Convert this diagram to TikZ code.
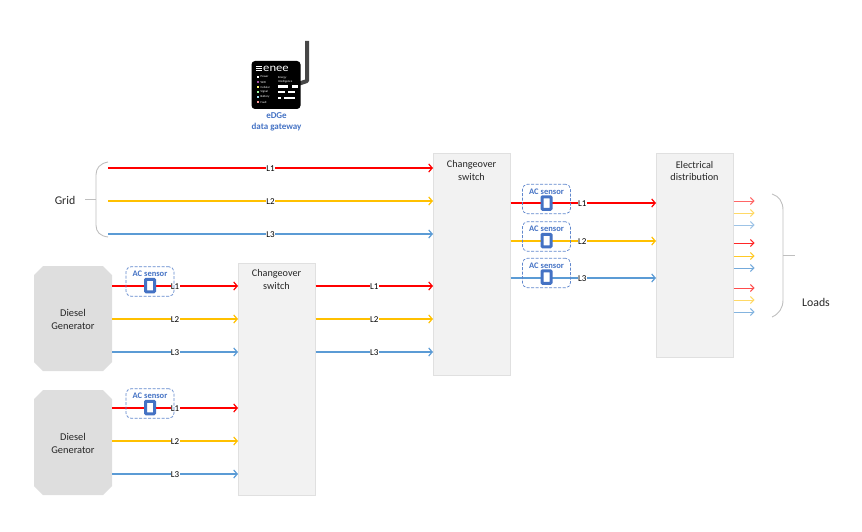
\documentclass[tikz,border=0pt]{standalone}
\usepackage{fontspec}
\setmainfont{Carlito}
\usetikzlibrary{arrows.meta}
\definecolor{redL}{HTML}{FF0000}
\definecolor{yelL}{HTML}{FFC000}
\definecolor{bluL}{HTML}{5B9BD5}
\definecolor{acblue}{HTML}{4472C4}
\tikzset{
 swbox/.style={draw=black!12,fill=black!5,line width=.6pt,align=center,anchor=north west,minimum width=77pt,minimum height=#1,inner sep=0pt},
 swtext/.style={font=\fontsize{10.2}{12.5}\selectfont,align=center,text=black!85},
 gen/.style={minimum width=78pt,minimum height=#1,inner sep=0pt,font=\fontsize{10.4}{13}\selectfont,align=center,text=black!85},
 genfill/.style={fill=black!13},
 phase/.style={-{Straight Barb[length=3.5pt,width=8pt,line width=1.2pt]},line width=#1},
 phase/.default=1.5pt,
 lab/.style={fill=white,inner sep=.3pt,yshift=-.7pt,font=\fontsize{9}{9}\selectfont,text=black},
 loadarrow/.style={-{Straight Barb[length=3.5pt,width=7pt,line width=.9pt]},line width=1pt},
 sens/.style={draw=acblue!85,dashed,dash pattern=on 3pt off 1.5pt,rounded corners=5pt,line width=.7pt,minimum width=48pt,minimum height=29.5pt,inner sep=0pt},
 senstext/.style={font=\bfseries\fontsize{8.5}{9}\selectfont,text=acblue},
 core/.style={draw=acblue,fill=white,line width=3pt,rounded corners=.8pt,minimum width=9pt,minimum height=12.5pt,inner sep=0pt},
 brace/.style={draw=black!25,line width=.9pt},
 captext/.style={font=\fontsize{11.8}{14}\selectfont,text=black!85},
 gwtext/.style={font=\bfseries\fontsize{9}{11}\selectfont,text=acblue,align=center},
 tinytext/.style={font=\fontsize{3}{3.6}\selectfont,text=white,inner sep=0pt,anchor=west},
 led/.style={minimum size=2.6pt,inner sep=0pt,fill=#1},
 bar/.style={fill=white,inner sep=0pt,minimum height=2.6pt,anchor=west}
}
\begin{document}
\begin{tikzpicture}[x=1pt,y=-1pt]
\useasboundingbox (0,0) rectangle (862,532);
% boxes
\node[swbox=232pt] (sw1) at (238,263) {};
\node[swbox=222pt] (sw2) at (433,153) {};
\node[swbox=204pt] (ed) at (656,153) {};
\node[swtext] at (276.5,279.5) {Changeover\\switch};
\node[swtext] at (471.5,170.3) {Changeover\\switch};
\node[swtext] at (694.5,170.8) {Electrical\\distribution};
\foreach \t in {266,390}{
  \fill[genfill] (43,\t) -- (103,\t) -- (112,\t+9) -- (112,\t+96) -- (103,\t+105) -- (43,\t+105) -- (34,\t+96) -- (34,\t+9) -- cycle;
}
\node[gen=105pt] (g1) at (73,319) {Diesel\\Generator};
\node[gen=105pt] (g2) at (73,443) {Diesel\\Generator};
% start coordinates
\coordinate (a1) at (108,168); \coordinate (a2) at (108,201); \coordinate (a3) at (108,234);
% grid lines
\foreach \n/\c/\l/\k in {a1/redL/L1/1.8pt,a2/yelL/L2/1.5pt,a3/bluL/L3/1.5pt}{
  \draw[phase=\k,draw=\c] (\n) -- (sw2.west |- \n) node[lab,pos=.5] {\l};
}
% generator lines
\foreach \gn/\sy/\c/\l/\k/\i in {g1/286/redL/L1/1.8pt/1,g1/319/yelL/L2/1.5pt/2,g1/352/bluL/L3/1.5pt/3,g2/408/redL/L1/1.8pt/4,g2/441/yelL/L2/1.5pt/5,g2/474/bluL/L3/1.5pt/6}{
  \coordinate (s\i) at (0,\sy);
  \draw[phase=\k,draw=\c] (\gn.east |- s\i) -- (sw1.west |- s\i) node[lab,pos=.5] {\l};
}
\foreach \sy/\c/\l/\k/\i in {286/redL/L1/1.8pt/1,319/yelL/L2/1.5pt/2,352/bluL/L3/1.5pt/3}{
  \coordinate (t\i) at (0,\sy);
  \draw[phase=\k,draw=\c] (sw1.east |- t\i) -- (sw2.west |- t\i) node[lab,pos=.5] {\l};
}
% output of second switch
\foreach \sy/\c/\l/\k/\i in {203/redL/L1/1.8pt/1,241/yelL/L2/1.5pt/2,278/bluL/L3/1.5pt/3}{
  \coordinate (o\i) at (0,\sy);
  \draw[phase=\k,draw=\c] (sw2.east |- o\i) -- (ed.west |- o\i) node[lab,pos=.5,xshift=-1pt] {\l};
}
% load arrows
\coordinate (loadend) at (754.5,0);
\foreach \y/\c/\m in {201/redL/60,213/yelL/60,225/bluL/60,243/redL/85,256/yelL/85,268/bluL/85,288/redL/70,300/yelL/60,312/bluL/75}{
  \coordinate (q) at (0,\y);
  \draw[loadarrow,draw=\c!\m] (ed.east |- q) -- (loadend |- q);
}
% sensors
\foreach \i/\x/\y in {a/150/281.5,b/150/403.5,c/546.5/199,d/546.5/236.5,e/546.5/273}{
  \node[sens] (sen\i) at (\x,\y) {};
  \node[senstext] at ([yshift=7.6pt]sen\i.center) {AC sensor};
  \node[core] at ([yshift=-4pt]sen\i.center) {};
}
% braces
\draw[brace] (108,162) .. controls (100,163.5) and (96,168) .. (96,175) -- (96,225) .. controls (96,232) and (100,236) .. (108,237);
\draw[brace] (85,199) -- (96,199);
\draw[brace] (772,194) .. controls (779,196) and (783,202) .. (783,210) -- (783,300) .. controls (783,308) and (779,314) .. (772,317);
\draw[brace] (783,255) -- (795,255);
\node[captext] at (65,200) {Grid};
\node[captext] at (816,302) {Loads};
% gateway
\draw[line width=4pt,draw=black!72,line join=round] (307,41) -- (307,81) -- (298,84);
\node[fill=black,rounded corners=3.5pt,minimum width=49pt,minimum height=48pt,inner sep=0pt] (gw) at (276,85) {};
\draw[white,line width=.6pt] (256,66.5) -- (261.5,66.5) (256,68.5) -- (261.5,68.5) (256,70.5) -- (261.5,70.5);
\node[font=\fontsize{11}{12}\selectfont,text=white,inner sep=0pt,anchor=west,xscale=1.15] at (263,68.5) {enee};
\foreach \k/\y/\c/\t in {0/77/white/Power,1/82/violet!70/WiFi,2/87/yellow!60/Cellular,3/92/green!40/Signal,4/97/cyan!40/Battery,5/102/red!40/Fault}{
  \node[led=\c] at (258,\y) {};
  \node[tinytext] at (260.5,\y) {\t};
}
\node[tinytext,align=left] at (278,80) {Energy\\Intelligence};
\node[bar,minimum width=10pt] at (278,86.5) {};
\node[bar,minimum width=6pt] at (292,86.5) {};
\node[bar,minimum width=7pt] at (278,92) {};
\node[bar,minimum width=7pt] at (288,92) {};
\node[bar,minimum width=3pt] at (278,98) {};
\node[bar,minimum width=11pt] at (284,98) {};
\node[gwtext] at (276.5,121.5) {eDGe\\data gateway};
\end{tikzpicture}
\end{document}
